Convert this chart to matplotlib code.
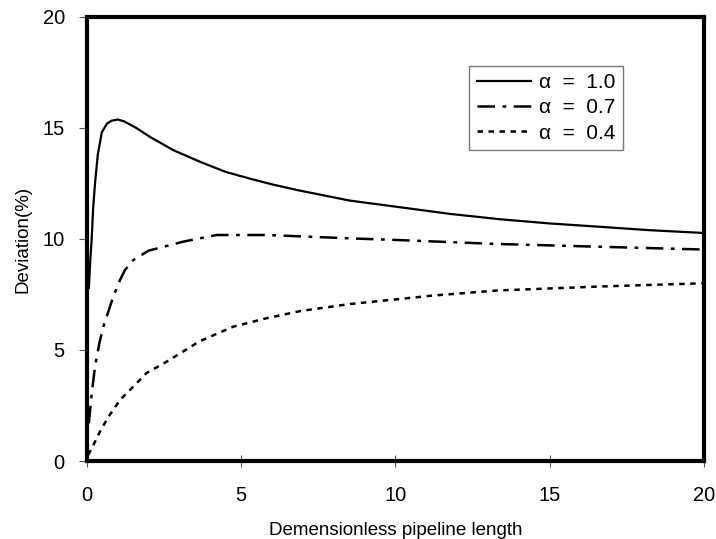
import matplotlib
matplotlib.use('Agg')
from matplotlib import pyplot as plt

plt.rcParams['font.family'] = ['Liberation Sans', 'DejaVu Sans']

# alpha = 1.0
x1 = [0.06, 0.1, 0.15, 0.2, 0.26, 0.35, 0.48, 0.65, 0.8, 1.0, 1.2, 1.6, 2.04, 2.8, 3.66, 4.5, 5.28, 6.0, 6.9, 8.52, 10.15, 11.77, 13.39, 15.0, 16.63, 18.2, 19.87, 20]
y1 = [7.8, 8.9, 9.95, 11.4, 12.5, 13.8, 14.8, 15.2, 15.33, 15.38, 15.3, 15.0, 14.6, 14.0, 13.48, 13.02, 12.72, 12.46, 12.18, 11.73, 11.43, 11.13, 10.89, 10.7, 10.55, 10.4, 10.28, 10.27]

# alpha = 0.7
x2 = [0.06, 0.15, 0.26, 0.4, 0.53, 0.85, 1.07, 1.23, 1.5, 1.99, 3.12, 4.2, 5.82, 6.9, 8.5, 10.15, 13.2, 16.63, 19.87, 20]
y2 = [1.7, 3.0, 4.25, 5.3, 6.05, 7.4, 8.15, 8.6, 9.05, 9.47, 9.88, 10.18, 10.18, 10.12, 10.03, 9.95, 9.78, 9.65, 9.53, 9.53]

# alpha = 0.4
x3 = [0.04, 0.2, 0.42, 0.7, 1.07, 1.5, 1.93, 2.58, 3.66, 4.74, 5.82, 6.9, 8.52, 10.15, 11.2, 13.3, 16.63, 19.87, 20]
y3 = [0.27, 0.7, 1.32, 2.0, 2.75, 3.35, 3.96, 4.47, 5.4, 6.05, 6.43, 6.75, 7.07, 7.3, 7.45, 7.68, 7.86, 8.0, 8.0]

fig = plt.figure(figsize=(7.16, 5.39), dpi=100)
ax = fig.add_axes([0.1215, 0.1447, 0.8615, 0.8238])

ax.plot(x1, y1, color='black', lw=1.6, ls='-', label='\u03b1  =  1.0')
ax.plot(x2, y2, color='black', lw=1.8, ls=(0, (7, 3, 1.5, 3)), label='\u03b1  =  0.7')
ax.plot(x3, y3, color='black', lw=1.8, ls=(0, (2.2, 2.2)), label='\u03b1  =  0.4')

ax.set_xlim(0, 20)
ax.set_ylim(0, 20)
ax.set_xticks([0, 5, 10, 15, 20])
ax.set_yticks([0, 5, 10, 15, 20])
ax.tick_params(axis='x', direction='inout', length=8, width=0.8, color='#555555', labelsize=14.5, pad=14)
ax.tick_params(axis='y', direction='out', length=6, width=0.8, color='#555555', labelsize=14.5, pad=10)
for s in ax.spines.values():
    s.set_linewidth(3)
    s.set_color('black')

ax.set_xlabel('Demensionless pipeline length', fontsize=13.5, labelpad=12)
ax.set_ylabel('Deviation(%)', fontsize=13.5, labelpad=8)

leg = ax.legend(loc='upper left', bbox_to_anchor=(0.62, 0.89), borderaxespad=0, fontsize=15,
                handlelength=2.6, handletextpad=0.4, borderpad=0.35, labelspacing=0.3,
                fancybox=False, frameon=True)
leg.get_frame().set_edgecolor('#555555')
leg.get_frame().set_linewidth(1.0)

plt.savefig('out.png', dpi=100)
